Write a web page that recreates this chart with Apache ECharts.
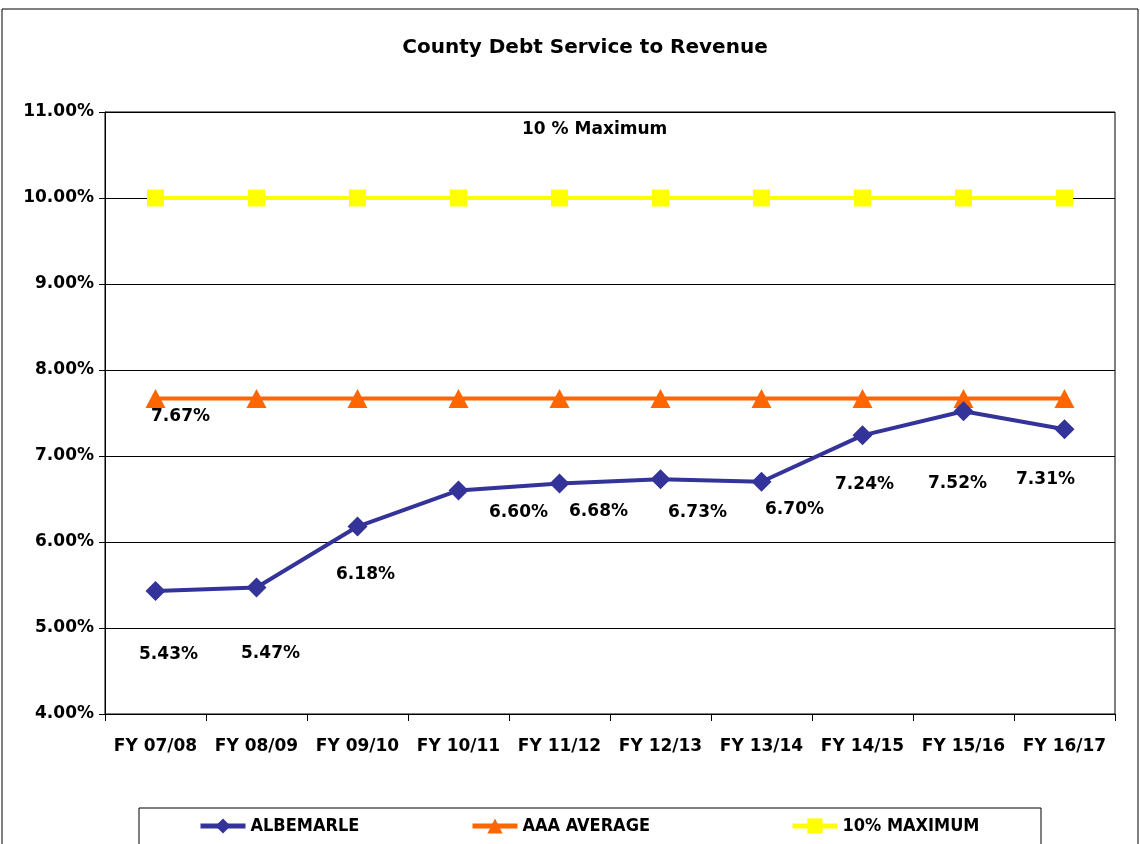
<!DOCTYPE html>
<html><head><meta charset="utf-8">
<script src="https://cdn.jsdelivr.net/npm/echarts@6/dist/echarts.min.js"></script>
<style>html,body{margin:0;padding:0;background:#fff}#c{width:1140px;height:844px}</style>
</head><body><div id="c"></div>
<script>
const categories = ['FY 07/08','FY 08/09','FY 09/10','FY 10/11','FY 11/12','FY 12/13','FY 13/14','FY 14/15','FY 15/16','FY 16/17'];
const albemarle = [5.43,5.47,6.18,6.60,6.68,6.73,6.70,7.24,7.52,7.31];
const aaaAverage = [7.67,7.67,7.67,7.67,7.67,7.67,7.67,7.67,7.67,7.67];
const maximum10 = [10,10,10,10,10,10,10,10,10,10];
const yTicks = {min:4, max:11, interval:1};
// label layout: pixel offsets of each data label from its point
const albLabelDx = [13,14,8,60,39,37,33,2,-6,-19];
const albLabelDy = [64,66,48,22,28,33,28,49,72,50];

const font = 'DejaVu Sans';
const legendText = {fontFamily:'DejaVu Sans Condensed',fontSize:18,fontWeight:'bold',color:'#000'};
const legendBase = {top:817,padding:0,itemWidth:45,itemHeight:19,itemGap:5,textStyle:legendText,lineStyle:{width:5}};
const chart = echarts.init(document.getElementById('c'));
chart.setOption({
  animation:false,
  textStyle:{fontFamily:font},
  title:{text:'County Debt Service to Revenue', left:580, top:33, textAlign:'center',
    textStyle:{fontFamily:font,fontSize:20,fontWeight:'bold',color:'#000'}},
  grid:{left:105,right:25,top:112,bottom:130,show:true,borderColor:'#000',borderWidth:1},
  xAxis:{type:'category',data:categories,boundaryGap:true,
    axisLine:{lineStyle:{color:'#000',width:1}},
    axisTick:{show:true,alignWithLabel:false,length:7,lineStyle:{color:'#000'}},
    axisLabel:{color:'#000',fontSize:17,fontWeight:'bold',margin:24,interval:0}},
  yAxis:{type:'value',min:yTicks.min,max:yTicks.max,interval:yTicks.interval,
    axisLine:{show:true,lineStyle:{color:'#000'}},
    axisTick:{show:true,length:6,lineStyle:{color:'#000'}},
    splitLine:{lineStyle:{color:'#000',width:1}},
    axisLabel:{color:'#000',fontSize:17,fontWeight:'bold',margin:11,formatter:v=>v.toFixed(2)+'%'}},
  legend:[
    Object.assign({left:198,data:['ALBEMARLE']},legendBase),
    Object.assign({left:470,data:['AAA AVERAGE']},legendBase),
    Object.assign({left:790,data:['10% MAXIMUM']},legendBase)
  ],
  graphic:[
    {type:'rect',shape:{x:2,y:9,width:1136,height:860},style:{fill:'none',stroke:'#000',lineWidth:1},silent:true},
    {type:'rect',shape:{x:139,y:808,width:902,height:40},style:{fill:'none',stroke:'#000',lineWidth:1},silent:true},
    {type:'text',left:522,top:121,style:{text:'10 % Maximum',font:'bold 17px "DejaVu Sans"',fill:'#000'}}
  ],
  series:[
    {name:'ALBEMARLE',type:'line',data:albemarle.map((v,i)=>({value:v,label:{offset:[albLabelDx[i],albLabelDy[i]]}})),
      color:'#333399',symbol:'diamond',symbolSize:20,lineStyle:{width:4,color:'#333399'},
      itemStyle:{color:'#333399'},z:5,
      label:{show:true,position:'inside',formatter:p=>p.value.toFixed(2)+'%',color:'#000',fontSize:17,fontWeight:'bold'}},
    {name:'AAA AVERAGE',type:'line',data:aaaAverage.map((v,i)=>i===0?{value:v,label:{show:true}}:v),
      color:'#FF6600',symbol:'triangle',symbolSize:[20,19],lineStyle:{width:4,color:'#FF6600'},
      itemStyle:{color:'#FF6600'},z:4,
      label:{show:false,position:'inside',offset:[25,18],formatter:p=>p.value.toFixed(2)+'%',color:'#000',fontSize:17,fontWeight:'bold'}},
    {name:'10% MAXIMUM',type:'line',data:maximum10,
      color:'#FFFF00',symbol:'rect',symbolSize:17,lineStyle:{width:4,color:'#FFFF00'},
      itemStyle:{color:'#FFFF00'},z:3}
  ]
});
</script></body></html>
